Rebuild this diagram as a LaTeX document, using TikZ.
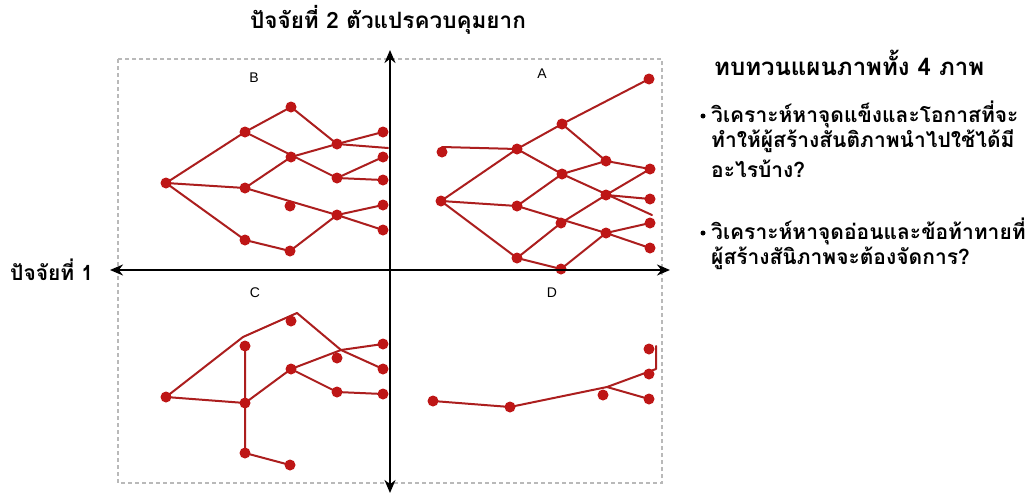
\documentclass[tikz,border=0pt]{standalone}
\usepackage{fontspec}
\setmainfont{Liberation Sans}
\newfontfamily\thai[Script=Thai]{Loma}
\usetikzlibrary{arrows.meta}
\definecolor{dotred}{RGB}{190,22,22}
\definecolor{linkred}{RGB}{172,30,30}
\tikzset{
  dot/.style={circle,fill=dotred,inner sep=0pt,minimum size=11pt},
  link/.style={draw=linkred,line width=2pt,line cap=round,line join=round},
  axis/.style={line width=2.8pt,-{Stealth[length=13pt,width=11pt]}},
  frame/.style={draw=gray!55,line width=1.1pt,dash pattern=on 4pt off 3pt},
  qlabel/.style={font=\fontsize{14}{16}\selectfont},
  thaitext/.style={font=\thai\bfseries\fontsize{21}{24}\selectfont,anchor=west,inner sep=0pt},
  bullet/.style={circle,fill=black,inner sep=0pt,minimum size=5pt}
}
\begin{document}
\begin{tikzpicture}[x=1pt,y=-1pt]
\useasboundingbox (0,0) rectangle (1028,493);
\fill[white] (0,0) rectangle (1028,493);
% frame
\draw[frame] (118,59) rectangle (662,483);
% quadrant labels
\node[qlabel] (lB) at (254,78) {B};
\node[qlabel] (lA) at (542,74) {A};
\node[qlabel] (lC) at (255,293) {C};
\node[qlabel] (lD) at (552,293) {D};
% ---------- B ----------
\coordinate (b1) at (166,183);
\coordinate (b2) at (245,132);
\coordinate (b3) at (291,107);
\coordinate (b4) at (337,144);
\coordinate (b5) at (383,132);
\coordinate (b6) at (291,157);
\coordinate (b7) at (383,157);
\coordinate (b8) at (337,178);
\coordinate (b9) at (383,180);
\coordinate (b10) at (245,188);
\coordinate (b11) at (290,206);
\coordinate (b12) at (337,215);
\coordinate (b13) at (383,205);
\coordinate (b14) at (383,230);
\coordinate (b15) at (245,240);
\coordinate (b16) at (290,251);
\coordinate (bE) at (388,148);
\draw[link] (b1) -- (b2) -- (b3) -- (b4) -- (b5);
\draw[link] (b4) -- (bE);
\draw[link] (b2) -- (b8) -- (b9);
\draw[link] (b8) -- (b7);
\draw[link] (b6) -- (b4);
\draw[link] (b1) -- (b10) -- (b6);
\draw[link] (b10) -- (b12) -- (b14);
\draw[link] (b16) -- (b12) -- (b13);
\draw[link] (b1) -- (b15) -- (b16);
\foreach \n in {b1,b2,b3,b4,b5,b6,b7,b8,b9,b10,b11,b12,b13,b14,b15,b16}
  \node[dot] (d\n) at (\n) {};
% ---------- A ----------
\coordinate (a1) at (442,152);
\coordinate (a2) at (441,201);
\coordinate (a3) at (517,149);
\coordinate (a4) at (562,124);
\coordinate (a5) at (649,79);
\coordinate (a6) at (606,161);
\coordinate (a7) at (562,174);
\coordinate (a8) at (650,169);
\coordinate (a9) at (517,206);
\coordinate (a10) at (606,195);
\coordinate (a11) at (650,199);
\coordinate (a12) at (561,223);
\coordinate (a13) at (606,233);
\coordinate (a14) at (650,223);
\coordinate (a15) at (650,248);
\coordinate (a16) at (517,258);
\coordinate (a17) at (561,269);
\coordinate (aE) at (652,215);
\coordinate (a1r) at (442,147);
\draw[link] (a1r) -- (a3);
\draw[link] (a3) -- (a4) -- (a5);
\draw[link] (a4) -- (a6) -- (a8);
\draw[link] (a3) -- (a7) -- (aE);
\draw[link] (a7) -- (a6);
\draw[link] (a2) -- (a3);
\draw[link] (a2) -- (a9);
\draw[link] (a2) -- (a16);
\draw[link] (a9) -- (a7);
\draw[link] (a9) -- (a13) -- (a15);
\draw[link] (a16) -- (a12) -- (a10) -- (a8);
\draw[link] (a10) -- (a11);
\draw[link] (a16) -- (a17) -- (a13) -- (a14);
\foreach \n in {a1,a2,a3,a4,a5,a6,a7,a8,a9,a10,a11,a12,a13,a14,a15,a16,a17}
  \node[dot] (d\n) at (\n) {};
% ---------- C ----------
\coordinate (c1) at (166,397);
\coordinate (c2) at (245,346);
\coordinate (c3) at (291,321);
\coordinate (c4) at (337,358);
\coordinate (c5) at (383,344);
\coordinate (c6) at (291,369);
\coordinate (c7) at (383,369);
\coordinate (c8) at (337,392);
\coordinate (c9) at (383,394);
\coordinate (c10) at (245,403);
\coordinate (c11) at (245,453);
\coordinate (c12) at (290,465);
\coordinate (c2t) at (243,337);
\coordinate (c3t) at (297,313);
\coordinate (c4t) at (341,350);
\draw[link] (c1) -- (c2t) -- (c3t) -- (c4t) -- (c7);
\draw[link] (c2) -- (c10) -- (c11) -- (c12);
\draw[link] (c1) -- (c10) -- (c6);
\draw[link] (c6) -- (c4t) -- (c5);
\draw[link] (c6) -- (c8) -- (c9);
\foreach \n in {c1,c2,c3,c4,c5,c6,c7,c8,c9,c10,c11,c12}
  \node[dot] (d\n) at (\n) {};
% ---------- D ----------
\coordinate (dd1) at (433,401);
\coordinate (dd2) at (510,407);
\coordinate (dd3) at (603,395);
\coordinate (dd4) at (649,349);
\coordinate (dd5) at (649,374);
\coordinate (dd6) at (649,399);
\coordinate (dJ) at (607,387);
\coordinate (dT) at (656,346);
\coordinate (dB) at (656,369);
\draw[link] (dd1) -- (dd2) -- (dJ) -- (dB) -- (dT);
\draw[link] (dJ) -- (dd6);
\foreach \n in {dd1,dd2,dd3,dd4,dd5,dd6}
  \node[dot] (n\n) at (\n) {};
% ---------- axes ----------
\coordinate (xL) at (110,270);
\coordinate (xR) at (670,270);
\coordinate (yT) at (390,50);
\coordinate (yB) at (390,493);
\coordinate (o) at (390,270);
\draw[axis] (o) -- (xL);
\draw[axis] (o) -- (xR);
\draw[axis] (o) -- (yT);
\draw[axis] (o) -- (yB);
% axis labels
\node[font=\thai\bfseries\fontsize{22.5}{24}\selectfont,inner sep=0pt] (ylab) at (388,20) {ปัจจัยที่ 2 ตัวแปรควบคุมยาก};
\node[font=\thai\bfseries\fontsize{21}{24}\selectfont,anchor=west,inner sep=0pt] (xlab) at (10,270) {ปัจจัยที่ 1};
% right text
\node[thaitext,font=\thai\bfseries\fontsize{24}{26}\selectfont] (title) at (714,63) {ทบทวนแผนภาพทั้ง 4 ภาพ};
\node[bullet] (bul1) at (703,116) {};
\node[thaitext] (t1) at (711,114) {วิเคราะห์หาจุดแข็งและโอกาสที่จะ};
\node[thaitext] (t2) at (711,141) {ทำให้ผู้สร้างสันติภาพนำไปใช้ได้มี};
\node[thaitext] (t3) at (711,169) {อะไรบ้าง?};
\node[bullet] (bul2) at (703,233) {};
\node[thaitext] (t4) at (711,231) {วิเคราะห์หาจุดอ่อนและข้อท้าทายที่};
\node[thaitext] (t5) at (711,258) {ผู้สร้างสันิภาพจะต้องจัดการ?};
\end{tikzpicture}
\end{document}
